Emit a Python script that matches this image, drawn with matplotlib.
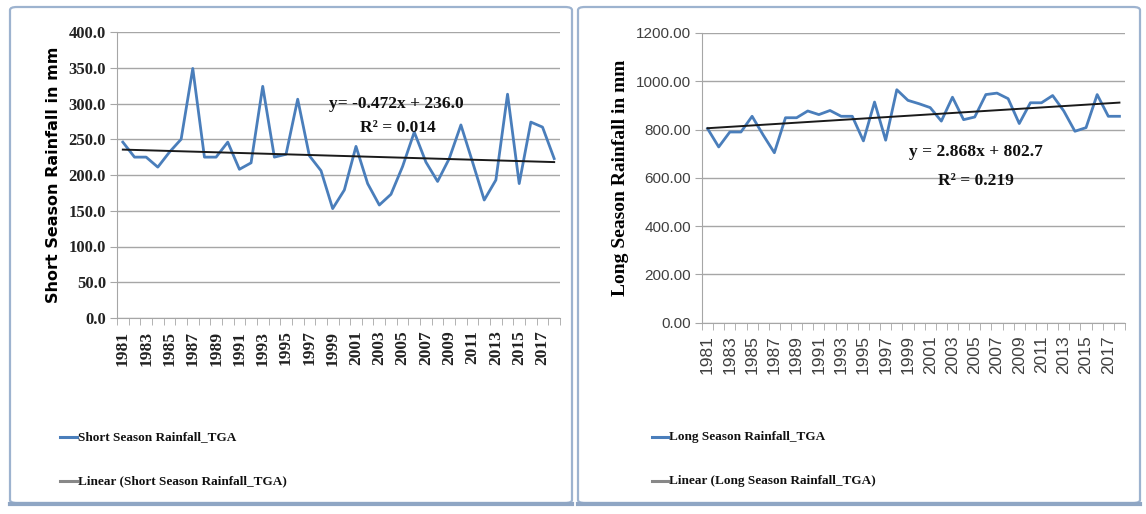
import numpy as np
import matplotlib
matplotlib.use("Agg")
import matplotlib.pyplot as plt
from matplotlib.patches import FancyBboxPatch
from matplotlib.lines import Line2D

years = list(range(1981, 2019))
short_rain = [246, 225, 225, 211, 232, 250, 349, 225, 225, 246, 208, 217, 324, 225, 229, 306,
              227, 206, 153, 179, 240, 188, 158, 173, 212, 260, 218, 191, 223, 270, 218, 165,
              193, 313, 188, 274, 267, 223]
long_rain = [804, 728, 790, 790, 855, 777, 704, 849, 849, 877, 862, 879, 855, 855, 753, 914,
             756, 965, 921, 907, 891, 835, 934, 841, 852, 945, 951, 928, 825, 911, 911, 941,
             877, 793, 808, 945, 855, 855]
short_trend = (-0.472, 236.0)
long_trend = (2.868, 802.7)
short_ticks = [0, 50, 100, 150, 200, 250, 300, 350, 400]
long_ticks = [0, 200, 400, 600, 800, 1000, 1200]

BLUE = "#4A7EBB"
GRID = "#A6A6A6"
SERIF = "Liberation Serif"

fig = plt.figure(figsize=(11.46, 5.14), dpi=100)
W, H = 1146, 514

def fr(x0, y0, x1, y1):
    return [x0 / W, 1 - y1 / H, (x1 - x0) / W, (y1 - y0) / H]

# panel borders (pixel coords from top: y 7 .. 503)
for (x0, x1) in [(10, 572), (578, 1140)]:
    p = FancyBboxPatch((x0 / W, 11 / H), (x1 - x0) / W, (503 - 7) / H,
                       boxstyle="round,pad=0,rounding_size=0.006",
                       transform=fig.transFigure, fill=False,
                       edgecolor="#9DB3CF", linewidth=1.6, zorder=0)
    fig.add_artist(p)
    fig.add_artist(Line2D([x0 / W, x1 / W], [10 / H, 10 / H], transform=fig.transFigure,
                          color="#8FA6C4", lw=3.0))

def make_axes(rect, data, trend, ticks, ymax, fmt, ytick_font, xtick_font, ylabel, ylabel_font):
    ax = fig.add_axes(rect)
    x = np.arange(len(years))
    ax.plot(x, data, color=BLUE, lw=2.0, zorder=3)
    t = np.arange(1, len(years) + 1)
    ax.plot(x, trend[0] * t + trend[1], color="#1a1a1a", lw=1.4, zorder=4)
    ax.set_xlim(-0.5, len(years) - 0.5)
    ax.set_ylim(0, ymax)
    ax.set_yticks(ticks)
    ax.set_yticklabels([fmt.format(v) for v in ticks], **ytick_font)
    ax.yaxis.grid(True, color=GRID, lw=1.0)
    ax.set_axisbelow(True)
    ax.set_xticks(x[::2])
    ax.set_xticklabels([str(y) for y in years[::2]], rotation=90, **xtick_font)
    ax.set_xticks(np.arange(-0.5, len(years)), minor=True)
    ax.tick_params(axis="x", which="major", length=0, pad=9)
    ax.tick_params(axis="x", which="minor", length=5, color=GRID, direction="out")
    ax.tick_params(axis="y", length=5, color=GRID, pad=3)
    for s in ["top", "right"]:
        ax.spines[s].set_visible(False)
    for s in ["left", "bottom"]:
        ax.spines[s].set_color(GRID)
    ax.set_ylabel(ylabel, **ylabel_font)
    return ax

ax1 = make_axes(fr(117, 32, 560, 318), short_rain, short_trend, short_ticks, 400, "{:.1f}",
                dict(family=SERIF, fontweight="bold", fontsize=12, color="#222222"),
                dict(family=SERIF, fontweight="bold", fontsize=12.5, color="#222222"),
                "Short Season Rainfall in mm",
                dict(family="DejaVu Sans", fontweight="bold", fontsize=11.5, labelpad=5))

ax2 = make_axes(fr(702, 33, 1125, 322.7), long_rain, long_trend, long_ticks, 1200, "{:.2f}",
                dict(family="Liberation Sans", fontsize=11, color="#404040"),
                dict(family="Liberation Sans", fontsize=12.5, color="#404040"),
                "Long Season Rainfall in mm",
                dict(family=SERIF, fontweight="bold", fontsize=14, labelpad=5))

eq_font = dict(family=SERIF, fontweight="bold", fontsize=12.5, ha="center", va="center",
               color="#111111")
fig.text(396 / W, 1 - 104 / H, "y= -0.472x + 236.0", **eq_font)
fig.text(398 / W, 1 - 128 / H, "R² = 0.014", **eq_font)
fig.text(976 / W, 1 - 152 / H, "y = 2.868x + 802.7", **eq_font)
fig.text(976 / W, 1 - 181 / H, "R² = 0.219", **eq_font)

leg_font = dict(family=SERIF, fontweight="bold", fontsize=9.5, va="center", color="#111111")
for (lx0, lx1, labels) in [(60, 77, ["Short Season Rainfall_TGA", "Linear (Short Season Rainfall_TGA)"]),
                          (652, 668, ["Long Season Rainfall_TGA", "Linear (Long Season Rainfall_TGA)"])]:
    for yy, col, lab in [(437, BLUE, labels[0]), (481, "#888888", labels[1])]:
        fig.add_artist(Line2D([lx0 / W, lx1 / W], [1 - yy / H, 1 - yy / H],
                              transform=fig.transFigure, color=col, lw=2.2))
        fig.text((lx1 + 1) / W, 1 - yy / H, lab, **leg_font)

fig.savefig("out.png", dpi=100)
